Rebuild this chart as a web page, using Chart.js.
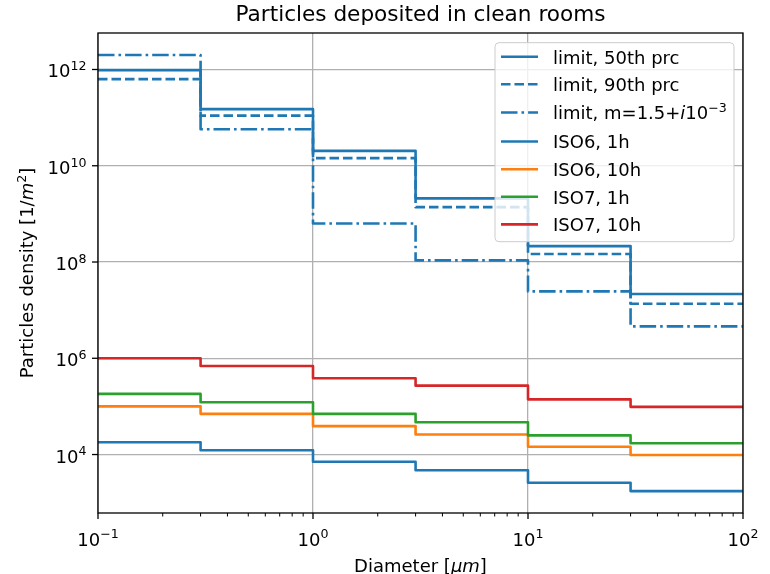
<!doctype html>
<html lang="en">
<head>
<meta charset="utf-8">
<title>Particles deposited in clean rooms</title>
<script src="https://cdn.jsdelivr.net/npm/chart.js"></script>
<style>
  html, body { margin: 0; padding: 0; background: #fff; }
  canvas { display: block; }
</style>
</head>
<body>
<canvas id="chart" width="770" height="574"></canvas>
<script>
  // bin edges (Diameter, µm) and step values per bin
  const edges = [0.1, 0.3, 1, 3, 10, 30, 100];

  const limit50 = [9.7e11, 1.5e11, 2.04e10, 2.1e9, 2.14e8, 2.16e7];
  const limit90 = [6.3e11, 1.1e11, 1.44e10, 1.38e9, 1.47e8, 1.36e7];
  const limitM = [2.0e12, 5.75e10, 6.3e8, 1.08e8, 2.45e7, 4.6e6];
  const iso6_1h = [1.8e4, 1.23e4, 7.1e3, 4.7e3, 2.6e3, 1.74e3];
  const iso6_10h = [1.0e5, 7.0e4, 3.9e4, 2.6e4, 1.45e4, 9.8e3];
  const iso7_1h = [1.82e5, 1.22e5, 7.0e4, 4.7e4, 2.5e4, 1.72e4];
  const iso7_10h = [1.0e6, 6.9e5, 3.85e5, 2.7e5, 1.4e5, 9.8e4];

  const labels = ['limit, 50th prc', 'limit, 90th prc', 'limit, m=1.5+i10⁻³',
                  'ISO6, 1h', 'ISO6, 10h', 'ISO7, 1h', 'ISO7, 10h'];

  const xTicks = [0.1, 1, 10, 100];
  const xTickExp = ['−1', '0', '1', '2'];
  const yTicks = [1e4, 1e6, 1e8, 1e10, 1e12];
  const yTickExp = ['4', '6', '8', '10', '12'];

  const C0 = '#1f77b4', C1 = '#ff7f0e', C2 = '#2ca02c', C3 = '#d62728';
  const DASH = [9.5, 4];
  const DASHDOT = [16.5, 4, 2.6, 4];
  const FONT = '"DejaVu Sans", sans-serif';

  const series = [
    { label: labels[0], values: limit50, color: C0, dash: [] },
    { label: labels[1], values: limit90, color: C0, dash: DASH },
    { label: labels[2], values: limitM, color: C0, dash: DASHDOT },
    { label: labels[3], values: iso6_1h, color: C0, dash: [] },
    { label: labels[4], values: iso6_10h, color: C1, dash: [] },
    { label: labels[5], values: iso7_1h, color: C2, dash: [] },
    { label: labels[6], values: iso7_10h, color: C3, dash: [] }
  ];

  // each bin becomes a flat segment from its left to its right edge
  function stepData(values) {
    const pts = [];
    values.forEach((v, i) => {
      pts.push({ x: edges[i], y: v });
      pts.push({ x: edges[i + 1], y: v });
    });
    return pts;
  }

  // minor tick positions for the log x axis
  const xAll = [];
  for (let d = -1; d <= 1; d++) {
    for (let k = 1; k <= 9; k++) xAll.push(+(k * Math.pow(10, d)).toPrecision(6));
  }
  xAll.push(100);

  const isMajor = v => Math.abs(Math.log10(v) - Math.round(Math.log10(v))) < 1e-9;

  // small rich text helper: parts = [{t, it, sup}]
  function partFont(p, size) {
    return (p.it ? 'italic ' : '') + (p.sup ? size * 0.7 : size) + 'px ' + FONT;
  }
  function richWidth(ctx, parts, size) {
    let w = 0;
    parts.forEach(p => { ctx.font = partFont(p, size); w += ctx.measureText(p.t).width; });
    return w;
  }
  function drawRich(ctx, parts, x, y, size, align) {
    let cx = x;
    if (align === 'center') cx = x - richWidth(ctx, parts, size) / 2;
    if (align === 'right') cx = x - richWidth(ctx, parts, size);
    ctx.textAlign = 'left';
    ctx.textBaseline = 'alphabetic';
    parts.forEach(p => {
      ctx.font = partFont(p, size);
      ctx.fillText(p.t, cx, p.sup ? y - size * 0.4 : y);
      cx += ctx.measureText(p.t).width;
    });
  }

  const legendParts = [
    [{ t: 'limit, 50th prc' }],
    [{ t: 'limit, 90th prc' }],
    [{ t: 'limit, m=1.5+' }, { t: 'i', it: true }, { t: '10' }, { t: '−3', sup: true }],
    [{ t: 'ISO6, 1h' }],
    [{ t: 'ISO6, 10h' }],
    [{ t: 'ISO7, 1h' }],
    [{ t: 'ISO7, 10h' }]
  ];

  const decor = {
    id: 'decor',
    afterDraw(chart) {
      const ctx = chart.ctx;
      const a = chart.chartArea;
      const xs = chart.scales.x, ys = chart.scales.y;
      const fs = 18;
      ctx.save();

      // frame
      ctx.strokeStyle = '#000';
      ctx.lineWidth = 1.3;
      ctx.strokeRect(a.left, a.top, a.right - a.left, a.bottom - a.top);

      // x tick marks
      xAll.forEach(v => {
        const px = xs.getPixelForValue(v);
        const major = isMajor(v);
        ctx.lineWidth = major ? 1.3 : 1;
        ctx.beginPath();
        ctx.moveTo(px, a.bottom);
        ctx.lineTo(px, a.bottom + (major ? 6 : 3.5));
        ctx.stroke();
      });
      // y tick marks
      yTicks.forEach(v => {
        const py = ys.getPixelForValue(v);
        ctx.lineWidth = 1.3;
        ctx.beginPath();
        ctx.moveTo(a.left, py);
        ctx.lineTo(a.left - 6, py);
        ctx.stroke();
      });

      ctx.fillStyle = '#000';
      // x tick labels
      xTicks.forEach((v, i) => {
        drawRich(ctx, [{ t: '10' }, { t: xTickExp[i], sup: true }], xs.getPixelForValue(v), 545.5, fs, 'center');
      });
      // y tick labels
      yTicks.forEach((v, i) => {
        drawRich(ctx, [{ t: '10' }, { t: yTickExp[i], sup: true }], a.left - 11.5, ys.getPixelForValue(v) + 8, fs, 'right');
      });

      // title
      ctx.font = '21.6px ' + FONT;
      ctx.textAlign = 'center';
      ctx.fillText('Particles deposited in clean rooms', (a.left + a.right) / 2, 21);

      // axis titles
      drawRich(ctx, [{ t: 'Diameter [' }, { t: 'μm', it: true }, { t: ']' }], (a.left + a.right) / 2, 571.5, fs, 'center');
      ctx.save();
      ctx.translate(33, (a.top + a.bottom) / 2);
      ctx.rotate(-Math.PI / 2);
      drawRich(ctx, [{ t: 'Particles density [1/' }, { t: 'm', it: true }, { t: '2', sup: true }, { t: ']' }], 0, 0, fs, 'center');
      ctx.restore();

      // legend box
      const lx = 495, ly = 42.7, lw = 239, lh = 199;
      ctx.beginPath();
      ctx.roundRect(lx, ly, lw, lh, 4);
      ctx.fillStyle = 'rgba(255,255,255,0.8)';
      ctx.fill();
      ctx.strokeStyle = '#cccccc';
      ctx.lineWidth = 1;
      ctx.stroke();

      const rows = [56.7, 84.2, 112.5, 141.5, 169.2, 196.8, 224.4];
      series.forEach((s, i) => {
        const ry = rows[i];
        ctx.strokeStyle = s.color;
        ctx.lineWidth = 2.6;
        ctx.setLineDash(s.dash);
        ctx.beginPath();
        ctx.moveTo(501, ry);
        ctx.lineTo(538, ry);
        ctx.stroke();
        ctx.setLineDash([]);
        ctx.fillStyle = '#000';
        drawRich(ctx, legendParts[i], 553, ry + 6.8, fs, 'left');
      });

      ctx.restore();
    }
  };

  new Chart(document.getElementById('chart'), {
    type: 'line',
    data: {
      datasets: series.map((s, i) => ({
        label: s.label,
        data: stepData(s.values),
        borderColor: s.color,
        borderWidth: 2.6,
        borderDash: s.dash,
        borderJoinStyle: 'round',
        pointRadius: 0,
        fill: false,
        tension: 0,
        order: series.length - i
      }))
    },
    options: {
      responsive: false,
      animation: false,
      layout: { padding: { top: 33, right: 27, left: 0, bottom: 0 } },
      plugins: {
        legend: { display: false },
        title: { display: false },
        tooltip: { enabled: false }
      },
      scales: {
        x: {
          type: 'logarithmic',
          min: 0.1,
          max: 100,
          afterBuildTicks: s => { s.ticks = xAll.map(v => ({ value: v })); },
          afterFit: s => { s.height = 61; },
          ticks: { display: false },
          border: { display: false },
          grid: {
            drawTicks: false,
            lineWidth: 1.3,
            color: c => (c.tick && isMajor(c.tick.value)) ? '#b0b0b0' : 'rgba(0,0,0,0)'
          }
        },
        y: {
          type: 'logarithmic',
          min: 6.1e2,
          max: 5.73e12,
          afterBuildTicks: s => { s.ticks = yTicks.map(v => ({ value: v })); },
          afterFit: s => { s.width = 98; },
          ticks: { display: false },
          border: { display: false },
          grid: { drawTicks: false, lineWidth: 1.3, color: '#b0b0b0' }
        }
      }
    },
    plugins: [decor]
  });
</script>
</body>
</html>
